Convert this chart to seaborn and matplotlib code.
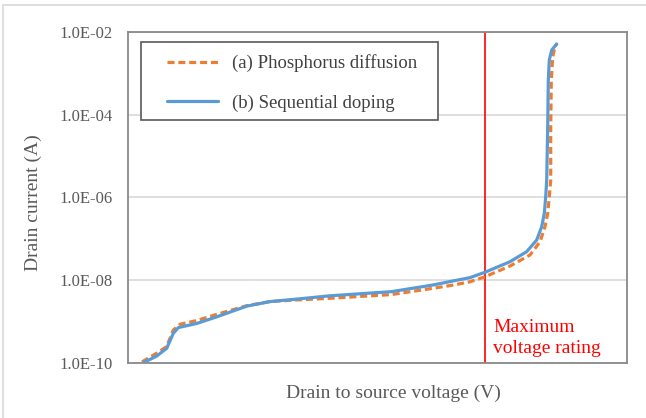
import numpy as np
import pandas as pd
import matplotlib
matplotlib.use("Agg")
import matplotlib.pyplot as plt
import seaborn as sns
from matplotlib.patches import Rectangle

# ---- data (voltage in arbitrary units 0-100, current in A as log10) ----
v_b = [3.07, 5.75, 7.76, 9.08, 10.08, 13.77, 17.78, 23.79, 28.46, 33.81, 40.48,
       52.79, 61.04, 65.17, 68.54, 71.54, 76.55, 79.90, 81.90, 82.91, 83.43,
       83.71, 83.91, 84.11, 84.23, 84.43, 84.91, 85.91]
logi_b = [-10.0, -9.84, -9.65, -9.29, -9.15, -9.05, -8.89, -8.63, -8.52, -8.46, -8.38,
          -8.28, -8.12, -8.02, -7.94, -7.81, -7.555, -7.312, -7.029, -6.707, -6.383,
          -5.981, -5.576, -4.286, -3.155, -2.671, -2.429, -2.283]
v_a = [2.81, 5.75, 7.76, 9.08, 10.42, 13.77, 17.78, 23.79, 28.46, 33.81, 40.48,
       52.79, 61.04, 65.17, 68.54, 71.54, 76.55, 80.56, 82.57, 83.57, 84.11,
       84.43, 84.71, 84.71, 84.83, 85.11, 85.57, 85.97]
logi_a = [-9.98, -9.77, -9.61, -9.21, -9.07, -8.98, -8.83, -8.62, -8.52, -8.48, -8.44,
          -8.35, -8.20, -8.12, -8.04, -7.92, -7.659, -7.392, -7.070, -6.707, -6.383,
          -5.981, -5.576, -4.286, -3.155, -2.591, -2.349, -2.27]
label_a = "(a) Phosphorus diffusion"
label_b = "(b) Sequential doping"
max_rating_v = 71.6
yticks = [1e-10, 1e-8, 1e-6, 1e-4, 1e-2]
ytick_labels = ["1.0E-10", "1.0E-08", "1.0E-06", "1.0E-04", "1.0E-02"]

df = pd.concat([
    pd.DataFrame({"V": v_a, "I": 10.0 ** np.array(logi_a), "s": label_a}),
    pd.DataFrame({"V": v_b, "I": 10.0 ** np.array(logi_b), "s": label_b}),
])

sns.set_theme(style="white")
plt.rcParams["font.family"] = ["Liberation Serif", "DejaVu Serif"]

W, H = 646, 418
fig = plt.figure(figsize=(W / 100, H / 100), dpi=100)
L, R, T, B = 128, 627, 32.3, 362.7
ax = fig.add_axes([L / W, 1 - B / H, (R - L) / W, (B - T) / H])

def ax_xy(px, py):
    return (px - L) / (R - L), 1 - (py - T) / (B - T)

orange = "#ED7D31"
blue = "#5B9BD5"
sns.lineplot(data=df, x="V", y="I", hue="s", style="s",
             palette={label_a: orange, label_b: blue},
             dashes={label_a: (2.2, 1.2), label_b: ""},
             hue_order=[label_a, label_b], style_order=[label_a, label_b],
             linewidth=2.3, sort=False, estimator=None, ax=ax, zorder=3)
for ln in ax.get_lines():
    ln.set_solid_joinstyle("round")
    ln.set_dash_joinstyle("round")

ax.set_yscale("log")
ax.set_ylim(1e-10, 1e-2)
ax.set_xlim(0, 100)
ax.set_yticks(yticks)
ax.set_yticklabels(ytick_labels)
ax.yaxis.set_minor_locator(matplotlib.ticker.NullLocator())
ax.set_xticks([])
ax.tick_params(axis="y", labelsize=12, labelcolor="#595959", length=0, pad=11)
ax.grid(axis="y", color="#D9D9D9", linewidth=1.2)
for s in ax.spines.values():
    s.set_color("#898989")
    s.set_linewidth(1.3)

ax.axvline(max_rating_v, color="#FF0000", linewidth=1.2, zorder=2)
tx = ax_xy(493.3, 0)[0]
ax.text(tx, ax_xy(0, 331.7)[1], "Maximum", color="#FF0000", fontsize=14,
        ha="left", va="baseline", transform=ax.transAxes)
ax.text(tx, ax_xy(0, 353.0)[1], "voltage rating", color="#FF0000", fontsize=14,
        ha="left", va="baseline", transform=ax.transAxes)

ax.set_xlabel("Drain to source voltage (V)", fontsize=14, color="#595959")
ax.set_ylabel("Drain current (A)", fontsize=14, color="#595959")
ax.xaxis.set_label_coords(*ax_xy(393.5, 393), transform=ax.transAxes)
ax.xaxis.label.set_va("center")
ax.yaxis.set_label_coords(*ax_xy(33, 203), transform=ax.transAxes)
ax.yaxis.label.set_va("center")

# legend frame drawn separately, legend content positioned inside it
x0, y0 = ax_xy(141, 120)
x1, y1 = ax_xy(437.6, 42.3)
ax.add_patch(Rectangle((x0, y0), x1 - x0, y1 - y0, transform=ax.transAxes,
                       facecolor="white", edgecolor="#595959", linewidth=1.2, zorder=4))
leg = ax.legend(loc="upper left", bbox_to_anchor=ax_xy(167, 54.3),
                borderaxespad=0, borderpad=0, fontsize=13.5, frameon=False,
                handlelength=2.7, labelspacing=1.19, handletextpad=0.75)
leg.set_zorder(5)
for t in leg.get_texts():
    t.set_color("#404040")

fig.patches.append(Rectangle((3 / W, -0.1), 1.2, 1 - 5 / H + 0.1, transform=fig.transFigure,
                             fill=False, edgecolor="#D9D9D9", linewidth=1.2))

fig.savefig("out.png", dpi=100)
